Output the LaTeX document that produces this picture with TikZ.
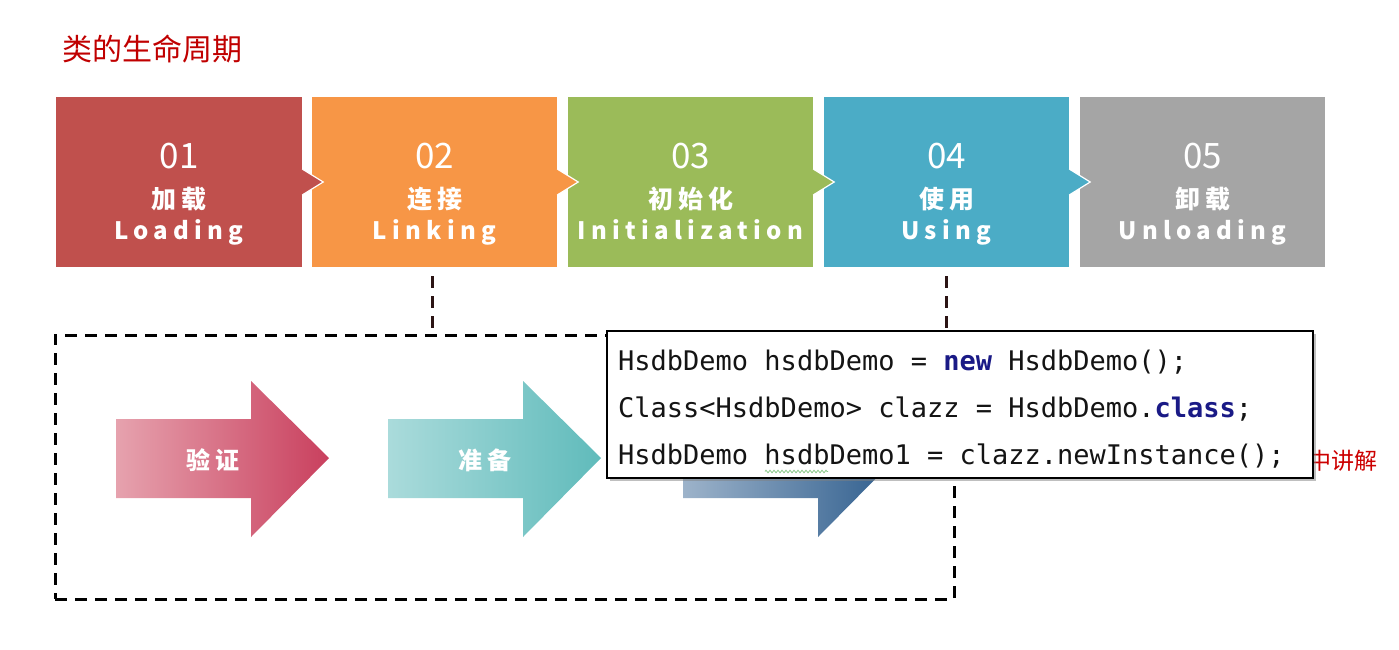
\documentclass[tikz,border=0pt]{standalone}
\usepackage{fontspec}
\setmainfont{Noto Sans CJK SC}
\newfontfamily\cjk{Noto Sans CJK SC}
\newfontfamily\cjksp[LetterSpace=20]{Noto Sans CJK SC}
\newfontfamily\ensp[LetterSpace=22]{Noto Sans CJK SC}
\newfontfamily\mono{DejaVu Sans Mono}
\usetikzlibrary{shadows,decorations.pathmorphing}
\definecolor{cA}{HTML}{C0504D}
\definecolor{cB}{HTML}{F79646}
\definecolor{cC}{HTML}{9BBB59}
\definecolor{cD}{HTML}{4BACC6}
\definecolor{cE}{HTML}{A5A5A5}
\definecolor{titlered}{HTML}{C00000}
\definecolor{notered}{HTML}{CC0000}
\definecolor{conncol}{HTML}{2B1414}
\definecolor{kwblue}{HTML}{1A1A86}
\definecolor{codeblack}{HTML}{141414}
\definecolor{aAl}{HTML}{E6A2AE}
\definecolor{aAr}{HTML}{C9405E}
\definecolor{aBl}{HTML}{AADBDB}
\definecolor{aBr}{HTML}{60BBBB}
\definecolor{aCl}{HTML}{9DB3CA}
\definecolor{aCr}{HTML}{2E5D8D}
\definecolor{squig}{HTML}{8CC88C}
\newcommand\cutls[1]{\hspace{-#1em}}
\tikzset{
  stagebox/.style={minimum width=245, minimum height=170, inner sep=0, draw=none},
  notch/.style={draw=white, line width=1.2pt, line join=miter},
  numlab/.style={text=white, font=\cjk\fontsize{35}{40}\selectfont, anchor=base, inner sep=0},
  cnlab/.style={text=white, font=\cjksp\bfseries\fontsize{25}{28}\selectfont, anchor=base, inner sep=0},
  enlab/.style={text=white, font=\ensp\bfseries\fontsize{24}{28}\selectfont, anchor=base, inner sep=0},
  framebox/.style={draw=black, line width=3pt, dash pattern=on 12pt off 8pt, minimum width=899, minimum height=264, inner sep=0},
  conn/.style={draw=conncol, line width=3pt, dash pattern=on 12pt off 8pt},
  codebox/.style={draw=black, line width=1.2pt, fill=white, minimum width=706, minimum height=147, inner sep=0,
     drop shadow={opacity=0.5, shadow xshift=3pt, shadow yshift=-3pt}},
  codeline/.style={text=codeblack, font=\mono\fontsize{27}{30}\selectfont, anchor=base west, inner sep=0},
  arrowlab/.style={text=white, font=\cjksp\bfseries\fontsize{24}{28}\selectfont, inner sep=0},
}
\begin{document}
\begin{tikzpicture}[x=1pt,y=-1pt]
\useasboundingbox (0,0) rectangle (1399,650);
% title
\node[anchor=base west, inner sep=0, text=titlered, font=\cjk\fontsize{30}{33}\selectfont] (title) at (62,61) {类的生命周期};
% stages
\node[stagebox, fill=cA, minimum width=246] (s1) at (179,182) {};
\node[stagebox, fill=cB] (s2) at (434.5,182) {};
\node[stagebox, fill=cC] (s3) at (690.5,182) {};
\node[stagebox, fill=cD] (s4) at (946.5,182) {};
\node[stagebox, fill=cE] (s5) at (1202.5,182) {};
% notches
\foreach \s/\c in {s1/cA,s2/cB,s3/cC,s4/cD}{
  \filldraw[notch, fill=\c] ([yshift=-13pt]\s.east) -- ([xshift=21pt]\s.east) -- ([yshift=13pt]\s.east);
}
% stage texts
\foreach \s/\n/\cn/\en in {s1/01/加载/Loading, s2/02/连接/Linking, s3/03/初始化/Initialization, s4/04/使用/Using, s5/05/卸载/Unloading}{
  \node[numlab] (\s num) at (\s.center |- 0,168) {\n};
  \node[cnlab] (\s cn) at (\s.center |- 0,208) {\cn\cutls{0.2}};
  \node[enlab] (\s en) at (\s.center |- 0,239) {\en\cutls{0.22}};
}
% dashed frame
\node[framebox] (frame) at (504.5,467) {};
% arrows
\shade[left color=aAl, right color=aAr] (116,419) -- (251,419) -- (251,381) -- (329,458) -- (251,537) -- (251,498) -- (116,498) -- cycle;
\node[arrowlab] (v1) at (213,460) {验证\cutls{0.2}};
\shade[left color=aBl, right color=aBr] (388,419) -- (523,419) -- (523,381) -- (601,458) -- (523,537) -- (523,498) -- (388,498) -- cycle;
\node[arrowlab] (v2) at (485,460) {准备\cutls{0.2}};
\shade[left color=aCl, right color=aCr] (683,419) -- (818,419) -- (818,381) -- (896,458) -- (818,537) -- (818,498) -- (683,498) -- cycle;
% connectors
\coordinate (k2) at (432,276);
\coordinate (k4) at (946,276);
\draw[conn] (k2) -- (k2 |- frame.north);
% side red text (partly covered)
\node[anchor=base west, inner sep=0, text=notered, font=\cjk\fontsize{23}{26}\selectfont] (note) at (1308,469) {中讲解};
% code box
\node[codebox] (code) at (960,404.5) {};
\draw[conn] (k4) -- (k4 |- code.north);
\node[codeline] (l1) at (618,370) {HsdbDemo hsdbDemo = \textcolor{kwblue}{\bfseries new} HsdbDemo();};
\node[codeline] (l2) at (618,417) {Class<HsdbDemo> clazz = HsdbDemo.\textcolor{kwblue}{\bfseries class};};
\node[codeline] (l3) at (618,464) {HsdbDemo hsdbDemo1 = clazz.newInstance();};
\draw[squig, line width=0.8pt, decorate, decoration={zigzag, amplitude=1.3pt, segment length=4pt}] (765,471.5) -- (828,471.5);
\end{tikzpicture}
\end{document}
